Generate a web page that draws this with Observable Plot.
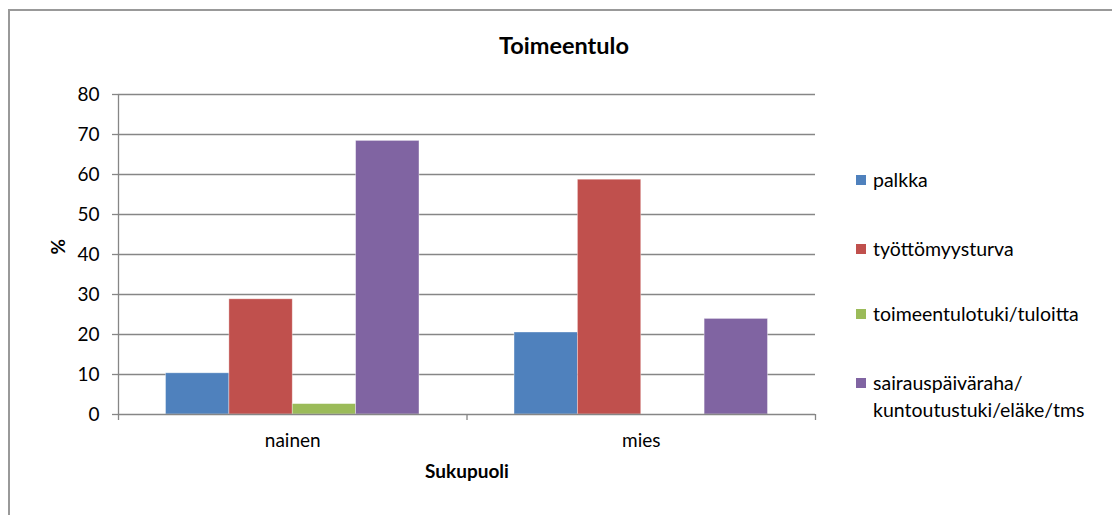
<!DOCTYPE html>
<html>
<head>
<meta charset="utf-8">
<script src="https://cdn.jsdelivr.net/npm/d3@7"></script>
<script src="https://cdn.jsdelivr.net/npm/@observablehq/plot@0.6"></script>
<style>
  html, body { margin: 0; padding: 0; background: #fff; overflow: hidden; }
  #chart { position: relative; width: 1112px; height: 515px; font-family: Lato, "Open Sans", sans-serif; color: #000; }
  #frame { position: absolute; left: 8px; top: 9px; width: 1120px; height: 520px; border-left: 2px solid #999; border-top: 2px solid #999; box-sizing: border-box; }
  #title { position: absolute; left: 0; top: 31px; width: 1128px; text-align: center; font-weight: bold; font-size: 23.5px; }
  #chart svg { position: absolute; left: 0; top: 0; }
  .key { position: absolute; left: 856px; display: flex; align-items: flex-start; font-size: 19.5px; line-height: 27px; }
  .key span { flex: none; width: 10px; height: 10px; margin: 9px 7px 0 0; }
</style>
</head>
<body>
<div id="chart">
  <div id="frame"></div>
  <div id="title">Toimeentulo</div>
</div>
<script>
// Categories and series
const groups = ["nainen", "mies"];
const series = ["palkka", "työttömyysturva", "toimeentulotuki/tuloitta", "sairauspäiväraha/kuntoutustuki/eläke/tms"];
const seriesLines = [["palkka"], ["työttömyysturva"], ["toimeentulotuki/tuloitta"], ["sairauspäiväraha/", "kuntoutustuki/eläke/tms"]];
const colors = ["#4F81BD", "#C0504D", "#9BBB59", "#8064A2"];

// Percentages per series, in the order of groups
const palkka = [10.3, 20.5];
const tyottomyysturva = [28.8, 58.7];
const toimeentulotuki = [2.6, 0];
const sairauspaivaraha = [68.4, 23.9];
const yTicks = [0, 10, 20, 30, 40, 50, 60, 70, 80];

const valuesBySeries = [palkka, tyottomyysturva, toimeentulotuki, sairauspaivaraha];
const rows = [];
groups.forEach((g, gi) => {
  series.forEach((s, si) => {
    rows.push({group: g, series: s, value: valuesBySeries[si][gi], gi, si});
  });
});

// Clustered bars: each group spans one unit, four bars with 0.75-bar outer padding
const slots = series.length + 1.5;
const grid = "#868686";

const plot = Plot.plot({
  width: 1112,
  height: 515,
  marginLeft: 118,
  marginRight: 297,
  marginTop: 94,
  marginBottom: 101,
  style: {fontFamily: "Lato, 'Open Sans', sans-serif", fontSize: "19px", color: "#000", background: "transparent"},
  x: {domain: [0, groups.length], axis: null},
  y: {domain: [0, 80], axis: null},
  color: {domain: series, range: colors},
  marks: [
    Plot.ruleY(yTicks.filter(d => d > 0), {stroke: grid, strokeWidth: 1.3}),
    Plot.rectY(rows.filter(d => d.value > 0), {
      x1: d => d.gi + (0.75 + d.si) / slots,
      x2: d => d.gi + (1.75 + d.si) / slots,
      y: "value",
      fill: "series",
      stroke: "#fff",
      strokeOpacity: 0.45,
      strokeWidth: 0.8
    }),
    Plot.ruleX([0], {stroke: grid, strokeWidth: 1.3}),
    Plot.ruleY([0], {stroke: grid, strokeWidth: 1.3}),
    Plot.axisY({ticks: yTicks, tickSize: 6, tickPadding: 13, stroke: grid, strokeWidth: 1.3, fill: "#000", label: null}),
    Plot.axisX({ticks: d3.range(groups.length + 1), tickSize: 6, tickFormat: () => "", stroke: grid, strokeWidth: 1.3, label: null}),
    Plot.axisX({ticks: groups.map((g, i) => i + 0.5), tickSize: 0, tickPadding: 19, tickFormat: t => groups[Math.floor(t)], fill: "#000", label: null}),
    Plot.text(["Sukupuoli"], {frameAnchor: "bottom", dy: 63, fontWeight: "bold", fill: "#000"}),
    Plot.text(["%"], {frameAnchor: "left", dx: -60, rotate: -90, fontWeight: "bold", fill: "#000"})
  ]
});

const chart = document.getElementById("chart");
chart.appendChild(plot);

// Legend to the right of the plot area
const keyCenters = [179, 248, 313, 382];
seriesLines.forEach((lines, i) => {
  const item = document.createElement("div");
  item.className = "key";
  item.style.top = (keyCenters[i] - 13.5) + "px";
  item.innerHTML = `<span style="background:${colors[i]}"></span><div>${lines.join("<br>")}</div>`;
  chart.appendChild(item);
});
</script>
</body>
</html>
